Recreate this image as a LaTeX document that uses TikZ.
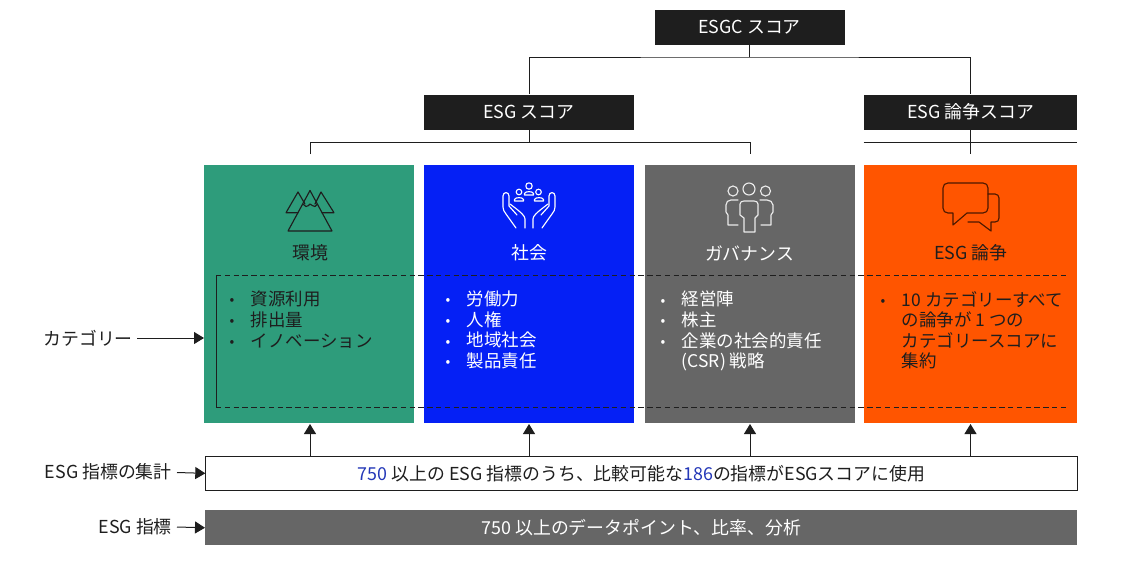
\documentclass[tikz,border=0pt]{standalone}
\usepackage{fontspec}
\setmainfont{Noto Sans CJK JP}
\usetikzlibrary{arrows.meta,calc}
\definecolor{cgreen}{HTML}{2E9C7B}
\definecolor{cblue}{HTML}{0520F5}
\definecolor{cgray}{HTML}{666666}
\definecolor{corange}{HTML}{FF5500}
\definecolor{cdark}{HTML}{1E1E1E}
\definecolor{cnum}{HTML}{2438B8}
\tikzset{
  x=0.75pt,y=-0.75pt,
  headbox/.style={fill=cdark,text=white,font=\fontsize{13.4}{15}\selectfont,anchor=center,inner sep=0pt},
  catbox/.style={anchor=north west,inner sep=0pt,minimum height=193.5pt},
  title/.style={font=\fontsize{13.4}{15}\selectfont,inner sep=0pt},
  items/.style={anchor=north west,inner sep=0pt,align=left,font=\fontsize{13.1}{15.4}\selectfont},
  lab/.style={font=\fontsize{13.4}{15}\selectfont,inner sep=0pt,text=cdark},
  conn/.style={draw=cdark,line width=0.75pt},
  arr/.style={draw=cdark,line width=0.75pt,-{Triangle[length=7.5pt,width=9pt]}},
  ic/.style={line width=0.85pt,line join=round,line cap=round},
}
\newcommand{\bul}{\makebox[18.5pt][l]{\hspace*{2.6pt}\raisebox{0.1ex}{\scalebox{0.8}{•}}}}
\begin{document}
\begin{tikzpicture}
\useasboundingbox (0,0) rectangle (1121,572);
% header boxes
\node[headbox,minimum width=142.5pt,minimum height=26.25pt] (esgc) at (749.5,27.5) {ESGC スコア};
\node[headbox,minimum width=157.5pt,minimum height=26.25pt] (esg) at (529,112) {ESG スコア};
\node[headbox,minimum width=159.75pt,minimum height=26.25pt] (cont) at (970.5,112) {ESG 論争スコア};
% category boxes
\node[catbox,fill=cgreen,minimum width=157.5pt] (env) at (204,165) {};
\node[catbox,fill=cblue,minimum width=157.5pt] (soc) at (424,165) {};
\node[catbox,fill=cgray,minimum width=157.5pt] (gov) at (644.5,165) {};
\node[catbox,fill=corange,minimum width=159.75pt] (con) at (864,165) {};
% bottom bars
\node[draw=cdark,line width=0.75pt,fill=white,anchor=north west,inner sep=0pt,minimum width=653.6pt,minimum height=26pt,font=\fontsize{13.4}{15}\selectfont,text=cdark] (agg) at (205.3,455.5) {\textcolor{cnum}{750} 以上の ESG 指標のうち、比較可能な\textcolor{cnum}{186}の指標がESGスコアに使用};
\node[fill=cgray,anchor=north west,inner sep=0pt,minimum width=654pt,minimum height=26.25pt,font=\fontsize{13.4}{15}\selectfont,text=white] (ind) at (205,510) {750 以上のデータポイント、比率、分析};
% connectors
\coordinate (top) at (749.5,57);
\coordinate (brk) at (529,142);
\coordinate (crk) at (970.5,142);
\coordinate (crb) at (970.5,154);
\coordinate (bl) at (310,142);
\coordinate (br) at (750,142);
\coordinate (bld) at (310,154);
\coordinate (brd) at (750,154);
\coordinate (u1) at (310,424);
\coordinate (u2) at (529,424);
\coordinate (u3) at (750,424);
\coordinate (u4) at (970.5,424);
\draw[conn] (esgc.south) -- (top);
\draw[conn] (esg.north) |- (top) -| (cont.north);
\draw[conn] (esg.south) -- (brk);
\draw[conn] (bld) -- (bl) -- (br) -- (brd);
\draw[conn] (cont.south) -- (crb);
\draw[conn] (cont.south west |- crk) -- (cont.south east |- crk);
% up arrows
\draw[arr] (agg.north -| u1) -- (u1);
\draw[arr] (agg.north -| u2) -- (u2);
\draw[arr] (agg.north -| u3) -- (u3);
\draw[arr] (agg.north -| u4) -- (u4);
% dashed category frame
\coordinate (d1) at (216,275); \coordinate (d2) at (1068,275);
\coordinate (d3) at (1068,407); \coordinate (d4) at (216,407);
\draw[cdark,line width=0.75pt,dash pattern=on 4pt off 2.6pt] (d1) -- (d2);
\draw[cdark,line width=0.75pt,dash pattern=on 4pt off 2.6pt] (d4) -- (d3);
\draw[cdark,line width=0.75pt] (d1) -- (d4);
% titles
\node[title,text=cdark] (t1) at (310,253) {環境};
\node[title,text=white] (t2) at (529.5,253) {社会};
\node[title,text=white] (t3) at (749.5,253) {ガバナンス};
\node[title,text=cdark] (t4) at (971,253) {ESG 論争};
% lists
\node[items,text=cdark] (l1) at (226,291) {\bul 資源利用\\\bul 排出量\\\bul イノベーション};
\node[items,text=white] (l2) at (442,291) {\bul 労働力\\\bul 人権\\\bul 地域社会\\\bul 製品責任};
\node[items,text=white] (l3) at (657,291) {\bul 経営陣\\\bul 株主\\\bul 企業の社会的責任\\\hspace*{18.5pt}(CSR) 戦略};
\node[items,text=cdark] (l4) at (877,291) {\bul 10 カテゴリーすべて\\\hspace*{18.5pt}の論争が 1 つの\\\hspace*{18.5pt}カテゴリースコアに\\\hspace*{18.5pt}集約};
% side labels
\node[lab,anchor=east] (lc) at (133,338) {カテゴリー};
\node[lab,anchor=east] (la) at (172,472) {ESG 指標の集計};
\node[lab,anchor=east] (li) at (172,527) {ESG 指標};
\coordinate (sc) at (137,338);
\coordinate (sa) at (177,472.5);
\coordinate (si) at (177,527);
\draw[arr] (sc) -- (env.west |- sc);
\draw[arr] (sa) -- (agg.west);
\draw[arr] (si) -- (ind.west);
% icon: mountains
\begin{scope}[ic,cdark]
\draw (288,231) -- (310,190.5) -- (332,231) -- cycle;
\draw (298,212.7) -- (286,212.7) -- (298,192) -- (305,204);
\draw (322,212.7) -- (334,212.7) -- (321,192) -- (315,204);
\draw (303.5,204.5) -- (306,206.5) .. controls (308,207.5) and (309,204) .. (310,204) .. controls (312,204) and (313,207.5) .. (315,206.5) -- (317,204.5);
\end{scope}
% icon: hands
\begin{scope}[ic,white]
\foreach \s/\o in {1/0,-1/1058}{
\begin{scope}[xshift=\o*0.75pt,xscale=\s]
\draw (516,228) -- (506,214) .. controls (504,211) and (503,210) .. (503,207) -- (503,196) .. controls (503,191.5) and (509,191.5) .. (509,196) -- (509,206) -- (517,215);
\draw (525,228) -- (525,219) .. controls (525,216) and (522,213) .. (510,204);
\end{scope}}
\draw (529,186) circle (3.2);
\draw (519,192) circle (2.8);
\draw (538.5,192) circle (2.8);
\draw (524.5,195) -- (524.5,193.5) .. controls (525,191) and (533,191) .. (533.5,193.5) -- (533.5,195) -- cycle;
\draw (514.5,201) -- (514.5,199.5) .. controls (515,197) and (523,197) .. (523.5,199.5) -- (523.5,201) -- cycle;
\draw (534.5,201) -- (534.5,199.5) .. controls (535,197) and (543,197) .. (543.5,199.5) -- (543.5,201) -- cycle;
\end{scope}
% icon: people
\begin{scope}[ic,white!92!black]
\draw (749,189) circle (6);
\draw (733,191) circle (5);
\draw (765.5,191) circle (5);
\draw (744,232) -- (744,218) -- (740,215) -- (740,204) .. controls (740,202) and (742,201) .. (744,201) -- (754,201) .. controls (756,201) and (758,202) .. (758,204) -- (758,215) -- (755,218) -- (755,232) -- cycle;
\draw (738,200) -- (731,200) .. controls (728,200) and (726,202) .. (726,205) -- (726,212) -- (728,215) -- (728,225) -- (738,225);
\draw (760,200) -- (767,200) .. controls (770,200) and (773,202) .. (773,205) -- (773,212) -- (771,215) -- (771,225) -- (761,225);
\end{scope}
% icon: speech bubbles
\begin{scope}[ic,draw=black!70!corange]
\draw (948,183) -- (983,183) .. controls (986,183) and (988,185) .. (988,188) -- (988,208) .. controls (988,211) and (986,213) .. (983,213) -- (967,213) -- (953,225) -- (953,213) -- (948,213) .. controls (945,213) and (943,211) .. (943,208) -- (943,188) .. controls (943,185) and (945,183) .. (948,183) -- cycle;
\draw (988,194) -- (995,194) .. controls (997.5,194) and (999,196) .. (999,198) -- (999,218) .. controls (999,220.5) and (997.5,222) .. (995,222) -- (991,222) -- (991,231) -- (979,222) -- (968,222);
\end{scope}
\end{tikzpicture}
\end{document}
